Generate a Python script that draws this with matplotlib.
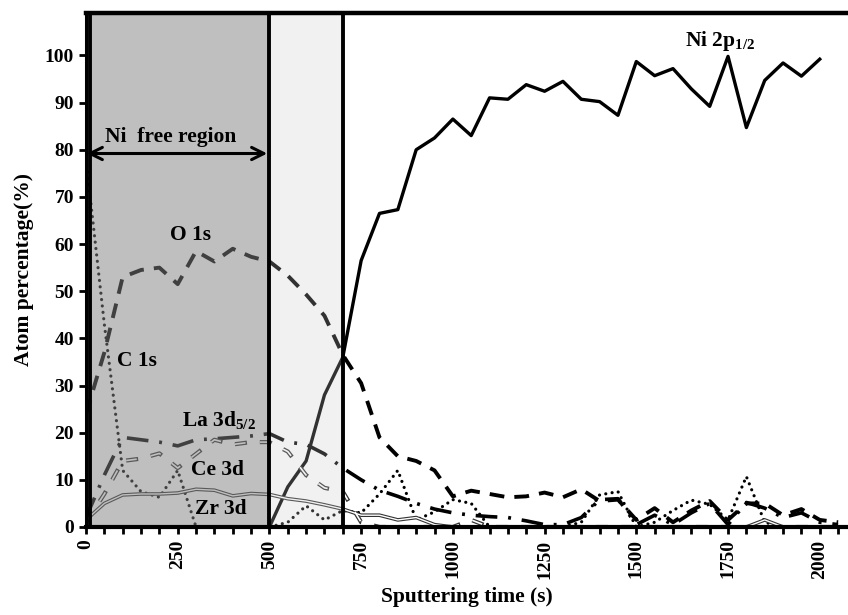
import numpy as np
import matplotlib
matplotlib.use("Agg")
import matplotlib.pyplot as plt

plt.rcParams['font.family'] = ['Liberation Serif', 'DejaVu Serif']
plt.rcParams['font.weight'] = 'bold'
plt.rcParams['axes.labelweight'] = 'bold'
plt.rcParams['mathtext.fontset'] = 'custom'
plt.rcParams['mathtext.rm'] = 'Liberation Serif:bold'
plt.rcParams['mathtext.it'] = 'Liberation Serif:bold'
plt.rcParams['mathtext.bf'] = 'Liberation Serif:bold'

# sputtering time (s), one reading every 50 s
time = np.arange(0, 2051, 50)

ni_2p = [0, 0, 0, 0, 0, 0, 0, 0, 0, 0,
         0, 8.5, 14, 28, 36, 56.5, 66.5, 67.3, 80, 82.5,
         86.5, 83, 91, 90.7, 93.8, 92.4, 94.5, 90.7, 90.2, 87.3,
         98.7, 95.7, 97.2, 92.9, 89.2, 99.8, 84.7, 94.7, 98.4, 95.6,
         99.2, np.nan]
o_1s = [24, 37, 53, 54.5, 55, 51.5, 58.5, 56.3, 59, 57.3,
        56.3, 53.3, 49.3, 44.8, 36.5, 30.5, 19, 15, 14, 12,
        6.5, 7.7, 7, 6.3, 6.5, 7.3, 6.3, 8, 5.5, 5.8,
        1.5, 4, 1, 3.5, 5.5, 1.5, 5, 5, 2.5, 3.8,
        1.5, 1]
c_1s = [78, 43, 12, 7.5, 6.3, 12, 0, 0, 0, 0,
        0, 1, 4.5, 1.5, 3.5, 3, 7, 12, 1.5, 3.2,
        5.8, 5, 0, 0, 0, 0, 0, 1, 6.8, 7.5,
        0, 1, 3.5, 5.7, 4.8, 1.5, 10.7, 1, 0, 0,
        0, 0]
la_3d = [2, 11, 19, 18.5, 18, 17.2, 18.5, 18.7, 19, 19.3,
         19.8, 18, 17.5, 15.5, 12.5, 10, 7.8, 6.5, 5, 3.8,
         3, 2.5, 2.2, 2, 1.3, 0.5, 0.5, 2, 5.8, 6,
         0.5, 2.5, 0.5, 3, 5, 0.5, 5.2, 4, 2, 3,
         1, 0.5]
ce_3d = [1, 7, 14, 14.5, 15.6, 12.5, 15.5, 18.5, 17.5, 18,
         18, 16, 11, 8.3, 7.5, 1, 0, 0, 0, 0,
         0, 1.5, 0, 0, 0, 0, 0, 0, 0, 0,
         0, 0, 0, 0, 0, 0, 0, 0, 0, 0,
         0, 0]
zr_3d = [1.5, 5, 6.8, 7, 7, 7.2, 8, 7.8, 6.6, 7.1,
         6.9, 6, 5.5, 4.7, 3.8, 2.5, 2.5, 1.5, 2, 0.5,
         0, 0, 0, 0, 0, 0, 0, 0, 0, 0,
         0, 0, 0, 0, 0, 0, 0, 1.5, 0, 0,
         0, 0]

fig = plt.figure(figsize=(8.48, 6.15), dpi=100)
ax = fig.add_axes([0.1014, 0.1431, 0.8986, 0.8358])

# curves
ax.plot(time, ni_2p, color='black', lw=2.4, zorder=2)
ax.plot(time, o_1s, color='black', lw=2.8, dashes=(3.8, 2.6), zorder=2)
ax.plot(time, la_3d, color='black', lw=2.6, dashes=(6, 3, 0.8, 3), zorder=2)
ax.plot(time, c_1s, color='black', lw=2.3, dashes=(0.01, 2.0),
        dash_capstyle='round', zorder=2)
ax.plot(time, ce_3d, color='#333333', lw=3.0, dashes=(2.9, 3.1), zorder=2)
ax.plot(time, ce_3d, color='white', lw=1.2, dashes=(6.4, 8.6), zorder=2.1)
ax.plot(time, zr_3d, color='#333333', lw=2.6, zorder=2)
ax.plot(time, zr_3d, color='white', lw=1.0, zorder=2.1)

# shaded regions
ax.axvspan(12, 500, color='#808080', alpha=0.5, lw=0, zorder=3)
ax.axvspan(500, 700, color='#c8c8c8', alpha=0.25, lw=0, zorder=3)
for xv in [12, 500, 700]:
    ax.axvline(xv, color='black', lw=2.8, zorder=4)

# labels on the chart
ax.annotate('', xy=(494, 79.2), xytext=(2, 79.2),
            arrowprops=dict(arrowstyle='<->', lw=2.2, color='black',
                            mutation_scale=22, shrinkA=0, shrinkB=0),
            zorder=6)
fs = 15.5
ax.text(52, 81.6, 'Ni  free region', fontsize=fs, zorder=6)
ax.text(229, 60.9, 'O 1s', fontsize=fs, zorder=6)
ax.text(85, 34.2, 'C 1s', fontsize=fs, zorder=6)
ax.text(262, 21.4, 'La 3d$_{5/2}$', fontsize=fs, zorder=6)
ax.text(286, 11.0, 'Ce 3d', fontsize=fs, zorder=6)
ax.text(297, 2.7, 'Zr 3d', fontsize=fs, zorder=6)
ax.text(1633, 102.1, 'Ni 2p$_{1/2}$', fontsize=fs, zorder=6)

ax.set_xlim(0, 2077)
ax.set_ylim(0, 109)
ax.set_xticks(np.arange(0, 2001, 250))
ax.set_xticks(np.arange(0, 2051, 50), minor=True)
ax.set_yticks(np.arange(0, 101, 10))
ax.tick_params(axis='x', which='both', direction='out', length=5, width=2,
               labelsize=14, labelrotation=90, pad=4)
ax.tick_params(axis='y', direction='out', length=5, width=2, labelsize=14)

ax.spines['right'].set_visible(False)
ax.spines['top'].set_linewidth(3.2)
ax.spines['bottom'].set_linewidth(3.0)
ax.spines['left'].set_linewidth(2.2)
for s in ax.spines.values():
    s.set_zorder(5)

ax.set_xlabel('Sputtering time (s)', fontsize=15.5, fontweight='bold', labelpad=6)
ax.set_ylabel('Atom percentage(%)', fontsize=15.5, fontweight='bold', labelpad=8)

fig.savefig('out.png', dpi=100)
